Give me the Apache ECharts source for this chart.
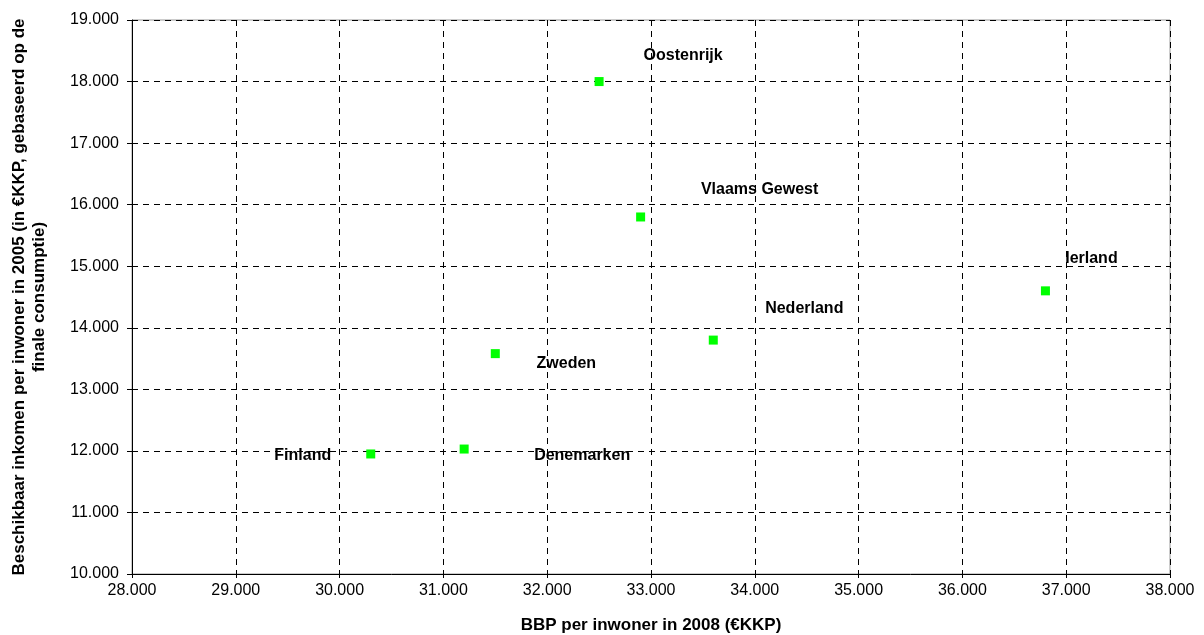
<!DOCTYPE html>
<html>
<head>
<meta charset="utf-8">
<script src="https://cdn.jsdelivr.net/npm/echarts@6/dist/echarts.min.js"></script>
<style>
html,body{margin:0;padding:0;background:#fff;}
#chart{width:1204px;height:635px;}
</style>
</head>
<body>
<div id="chart"></div>
<script>
// Data
const countries = ["Oostenrijk", "Vlaams Gewest", "Ierland", "Nederland", "Zweden", "Finland", "Denemarken"];
const bbp = [32500, 32900, 36800, 33600, 31500, 30300, 31200];
const inkomen = [18000, 15800, 14600, 13800, 13580, 11950, 12030];
const xTicks = [28000, 29000, 30000, 31000, 32000, 33000, 34000, 35000, 36000, 37000, 38000];
const yTicks = [10000, 11000, 12000, 13000, 14000, 15000, 16000, 17000, 18000, 19000];

// Label placement (styling)
const labelOffsets = {
  "Oostenrijk": [84, -26],
  "Vlaams Gewest": [119, -27],
  "Ierland": [46, -32],
  "Nederland": [91, -31],
  "Zweden": [71, 10],
  "Finland": [-68, 2],
  "Denemarken": [118, 7]
};

const fmt = v => (v / 1000).toFixed(3);
const font = "Liberation Sans, Arial, sans-serif";

const chart = echarts.init(document.getElementById('chart'), null, {renderer: 'canvas'});
chart.setOption({
  animation: false,
  backgroundColor: '#fff',
  grid: {left: 132, right: 34, top: 20, bottom: 61, outerBoundsMode: 'none', containLabel: false,
         show: true, borderColor: '#999', borderWidth: 1, backgroundColor: 'transparent'},
  xAxis: {
    type: 'value', min: xTicks[0], max: xTicks[xTicks.length - 1], interval: 1000,
    name: 'BBP per inwoner in 2008 (€KKP)', nameLocation: 'middle', nameGap: 43,
    nameTextStyle: {fontFamily: font, fontWeight: 'bold', fontSize: 17, color: '#000'},
    axisLine: {onZero: false, lineStyle: {color: '#000', width: 1}},
    axisTick: {show: true, length: 4, lineStyle: {color: '#000'}},
    axisLabel: {formatter: fmt, fontFamily: font, fontSize: 16, color: '#000', margin: 9},
    splitLine: {show: true, lineStyle: {color: '#000', type: [6, 5], width: 1}}
  },
  yAxis: {
    type: 'value', min: yTicks[0], max: yTicks[yTicks.length - 1], interval: 1000,
    name: 'Beschikbaar inkomen per inwoner in 2005 (in €KKP, gebaseerd op de\nfinale consumptie)',
    nameLocation: 'middle', nameGap: 83, nameRotate: 90,
    nameTextStyle: {fontFamily: font, fontWeight: 'bold', fontSize: 17, color: '#000', lineHeight: 20, align: 'center'},
    axisLine: {onZero: false, lineStyle: {color: '#000', width: 1}},
    axisTick: {show: true, length: 5, lineStyle: {color: '#000'}},
    axisLabel: {formatter: fmt, fontFamily: font, fontSize: 16, color: '#000', margin: 13},
    splitLine: {show: true, lineStyle: {color: '#000', type: [6, 5], width: 1}}
  },
  series: [{
    type: 'scatter',
    symbol: 'rect',
    symbolSize: 9,
    itemStyle: {color: '#00FF00', opacity: 1},
    data: countries.map((c, i) => ({
      name: c,
      value: [bbp[i], inkomen[i]],
      label: {
        show: true, position: 'inside', formatter: c,
        offset: labelOffsets[c],
        fontFamily: font, fontWeight: 'bold', fontSize: 16, color: '#000'
      }
    }))
  }]
});
</script>
</body>
</html>
